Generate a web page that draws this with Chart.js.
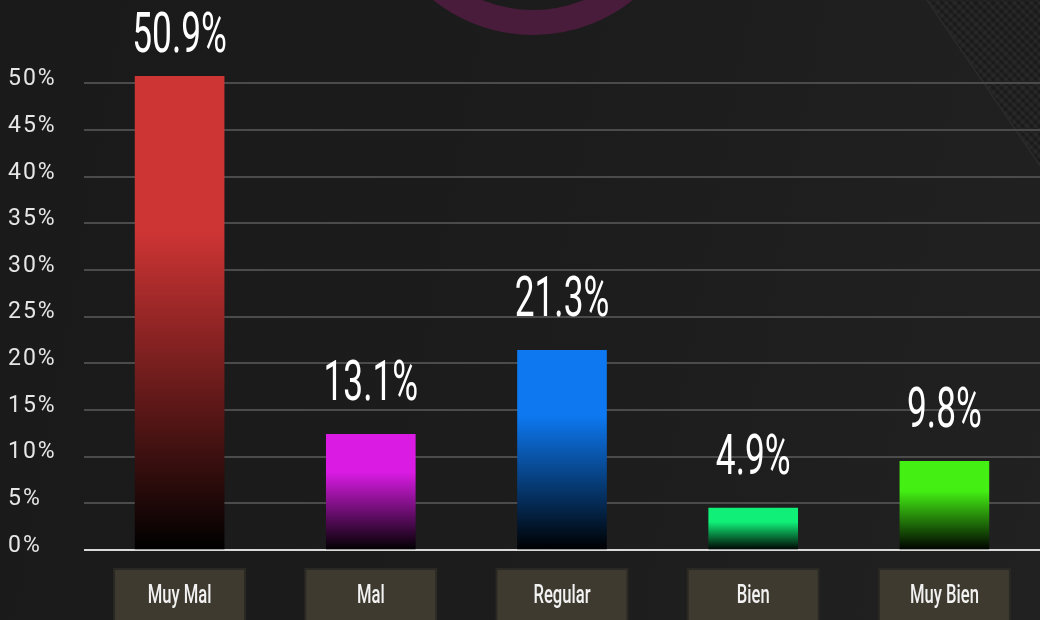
<!DOCTYPE html>
<html>
<head>
<meta charset="utf-8">
<script src="https://cdn.jsdelivr.net/npm/chart.js@4/dist/chart.umd.min.js"></script>
<style>
  html, body { margin: 0; padding: 0; overflow: hidden; }
  body { width: 1040px; height: 620px; position: relative;
         background: linear-gradient(100deg, #1a1a1a 0%, #1c1c1c 50%, #212121 100%); }
  #ring { position: absolute; left: 373px; top: -285px; width: 320px; height: 320px;
          box-sizing: border-box; border: 25px solid #4a1c3b; border-radius: 50%; }
  #mesh { position: absolute; left: 0; top: 0; width: 1040px; height: 620px;
          clip-path: polygon(927px 0, 1040px 0, 1040px 166px);
          background:
            repeating-linear-gradient(45deg, rgba(255,255,255,0.035) 0 3px, transparent 3px 6px),
            repeating-linear-gradient(-45deg, rgba(0,0,0,0.18) 0 3px, transparent 3px 6px),
            #202020; }
  #edge { position: absolute; left: 0; top: 0; width: 1040px; height: 620px;
          clip-path: polygon(926px 0, 928px 0, 1040px 164px, 1040px 167px); background: #2a2a2a; }
  #chart { position: absolute; left: 0; top: 0; }
</style>
</head>
<body>
<div id="ring"></div>
<div id="mesh"></div>
<div id="edge"></div>
<canvas id="chart" width="1040" height="620"></canvas>
<script>
// Categorías y valores
var categorias = ["Muy Mal", "Mal", "Regular", "Bien", "Muy Bien"];
var alturas = [50.8, 12.4, 21.4, 4.5, 9.5];          // altura de cada barra (%)
var porcentajes = ["50.9%", "13.1%", "21.3%", "4.9%", "9.8%"]; // texto sobre cada barra
var colores = ["#cd3434", "#d91be3", "#0d78f0", "#10f078", "#44f013"];
var ticksY = [0, 5, 10, 15, 20, 25, 30, 35, 40, 45, 50];

// Degradado de cada barra: color arriba, negro en la base
function degradado(ctx) {
    var chart = ctx.chart;
    var color = colores[ctx.dataIndex];
    if (!chart.chartArea) return color;
    var y = chart.scales.y;
    var top = y.getPixelForValue(ctx.raw);
    var base = y.getPixelForValue(0);
    var g = chart.ctx.createLinearGradient(0, top, 0, base);
    g.addColorStop(0, color);
    g.addColorStop(0.33, color);
    g.addColorStop(1, "#000000");
    return g;
}

// Espaciado de letras para las etiquetas del eje Y
var espaciado = {
    id: "espaciado",
    beforeDraw: function (chart) { chart.ctx.letterSpacing = "2px"; },
    beforeDatasetsDraw: function (chart) { chart.ctx.letterSpacing = "0px"; }
};

// Porcentajes encima de las barras (letra estrecha)
var etiquetas = {
    id: "etiquetas",
    afterDatasetsDraw: function (chart) {
        var ctx = chart.ctx;
        var meta = chart.getDatasetMeta(0);
        ctx.save();
        ctx.fillStyle = "#ffffff";
        ctx.font = "400 56px Roboto";
        ctx.textAlign = "center";
        ctx.textBaseline = "alphabetic";
        meta.data.forEach(function (bar, i) {
            var yText = Math.max(bar.y - 34, 52);
            ctx.save();
            ctx.translate(bar.x, yText);
            ctx.scale(0.63, 1);
            ctx.fillText(porcentajes[i], 0, 0);
            ctx.restore();
        });
        ctx.restore();
    }
};

// Cajas con el nombre de cada categoría bajo el eje X
var cajas = {
    id: "cajas",
    afterDraw: function (chart) {
        var ctx = chart.ctx;
        var x = chart.scales.x;
        var top = chart.chartArea.bottom + 19;
        ctx.save();
        categorias.forEach(function (cat, i) {
            var cx = x.getPixelForValue(i);
            ctx.fillStyle = "#3e3a2f";
            ctx.fillRect(cx - 65.5, top, 131, 60);
            ctx.strokeStyle = "#2b2924";
            ctx.lineWidth = 2;
            ctx.strokeRect(cx - 65.5, top, 131, 60);
            ctx.save();
            ctx.translate(cx, top + 27);
            ctx.scale(0.64, 1);
            ctx.fillStyle = "#f2f2f2";
            ctx.font = "500 26px Roboto";
            ctx.textAlign = "center";
            ctx.textBaseline = "middle";
            ctx.fillText(cat, 0, 0);
            ctx.restore();
        });
        ctx.restore();
    }
};

var grafica = new Chart("chart", {
    type: "bar",
    data: {
        labels: categorias,
        datasets: [{
            data: alturas,
            backgroundColor: degradado,
            borderWidth: 0,
            barThickness: 89
        }]
    },
    options: {
        responsive: false,
        devicePixelRatio: 1,
        animation: false,
        layout: { padding: { top: 76, left: 8, right: 0, bottom: 0 } },
        plugins: { legend: { display: false }, tooltip: { enabled: false } },
        scales: {
            x: {
                grid: { display: false },
                border: { display: false },
                ticks: { display: false },
                afterFit: function (scale) { scale.height = 70; }
            },
            y: {
                min: 0,
                max: Math.max.apply(null, alturas),
                border: { display: false },
                grid: {
                    drawTicks: false,
                    color: function (c) { return c.tick && c.tick.value === 0 ? "#d8d8d8" : "#4b4b4b"; },
                    lineWidth: 2
                },
                afterBuildTicks: function (scale) {
                    scale.ticks = ticksY.map(function (v) { return { value: v }; });
                },
                afterFit: function (scale) { scale.width = 76; },
                ticks: {
                    crossAlign: "far",
                    labelOffset: -4,
                    color: "#e6e6e6",
                    font: { family: "Roboto", size: 23 },
                    callback: function (v) { return v + "%"; }
                }
            }
        }
    },
    plugins: [espaciado, etiquetas, cajas]
});
</script>
</body>
</html>
